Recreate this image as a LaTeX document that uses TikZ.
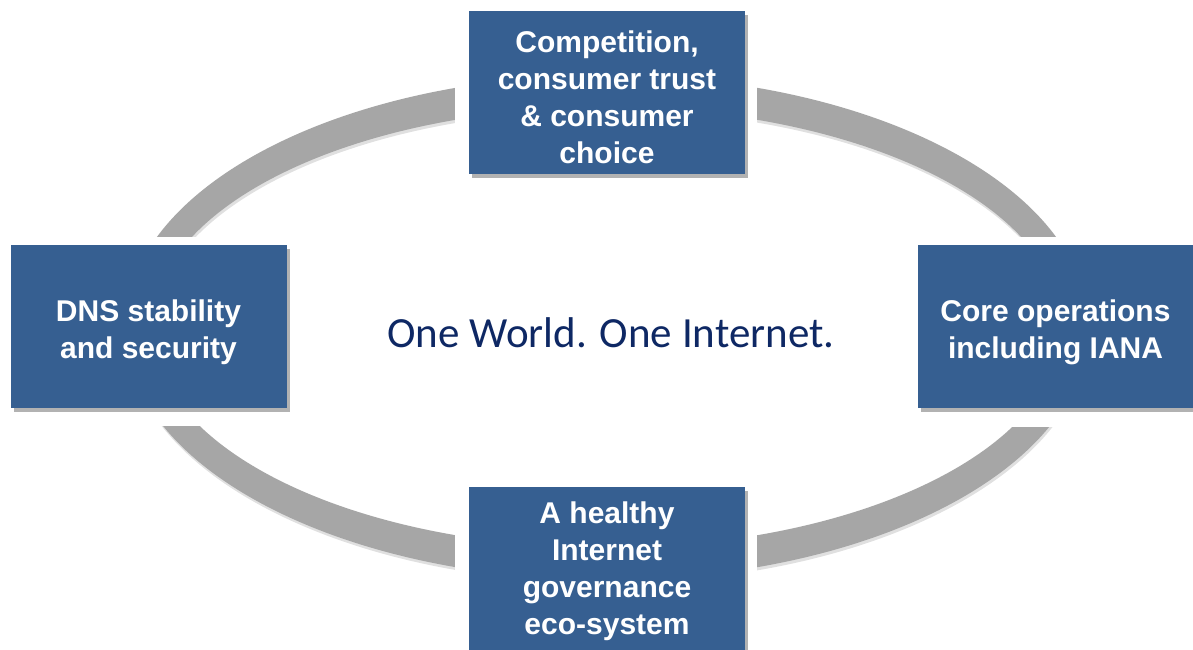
\documentclass[tikz,border=0pt]{standalone}
\usepackage{fontspec}
\setmainfont{Liberation Sans}
\newfontfamily\carlito{Carlito}
\usetikzlibrary{shadows}
\definecolor{boxblue}{RGB}{54,95,145}
\definecolor{ringgray}{RGB}{166,166,166}
\definecolor{navytext}{RGB}{14,40,100}
\begin{document}
\begin{tikzpicture}[x=1pt,y=-1pt,
  goalbox/.style={fill=boxblue, draw=none, inner sep=0pt,
    minimum width=276pt, minimum height=163pt,
    drop shadow={shadow xshift=3pt, shadow yshift=-4pt, opacity=0.3, fill=black}},
  goaltext/.style={text=white, align=center, inner sep=0pt,
    font=\fontsize{30}{37}\selectfont\bfseries},
  mask/.style={fill=white, draw=none}]
\useasboundingbox (0,0) rectangle (1193,649);
\clip (0,0) rectangle (1193,649);
\fill[white] (0,0) rectangle (1193,649);
% ring shadow
\fill[black, opacity=0.12, even odd rule]
  (607.5,330.5) ellipse [x radius=481.5, y radius=252.3]
  (607.5,330.5) ellipse [x radius=454.7, y radius=220.1];
% ring
\fill[ringgray, even odd rule]
  (606.5,327.5) ellipse [x radius=481.5, y radius=252.3]
  (606.5,327.5) ellipse [x radius=454.7, y radius=220.1];
% masks around boxes
\fill[mask] (455,0) rectangle (757,185);
\fill[mask] (455,476) rectangle (757,649);
\fill[mask] (0,237) rectangle (300,426);
\fill[mask] (900,237) rectangle (1193,427);
% boxes
\node[goalbox] (top) at (607,92.5) {};
\node[goalbox] (left) at (148.5,326.5) {};
\node[goalbox] (right) at (1055.5,326.5) {};
\node[goalbox] (bottom) at (607,568.5) {};
\node[goaltext] (toptext) at ([yshift=-5pt]top.center) {Competition,\\consumer trust\\\& consumer\\choice};
\node[goaltext] (lefttext) at ([yshift=-6pt]left.center) {DNS stability\\and security};
\node[goaltext] (righttext) at ([yshift=-6pt]right.center) {Core operations\\including IANA};
\node[goaltext] (bottomtext) at ([yshift=-3pt]bottom.center) {A healthy\\Internet\\governance\\eco-system};
% centre text
\node[text=navytext, font=\carlito\fontsize{43}{50}\selectfont, inner sep=0pt] (motto) at (611,333) {One World. One Internet.};
\end{tikzpicture}
\end{document}
